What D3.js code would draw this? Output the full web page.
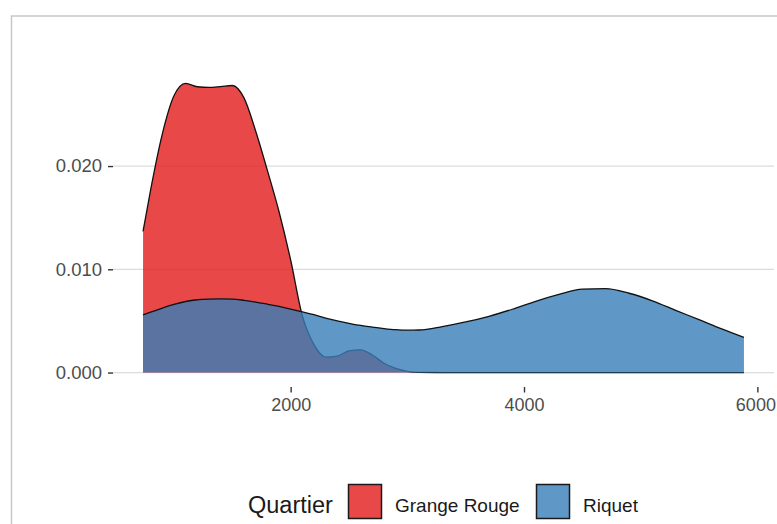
<!DOCTYPE html>
<html>
<head>
<meta charset="utf-8">
<script src="https://cdn.jsdelivr.net/npm/d3@7"></script>
<style>
  html, body { margin: 0; padding: 0; background: #ffffff; }
  svg { display: block; }
  text { font-family: "Liberation Sans", Arial, sans-serif; }
</style>
</head>
<body>
<svg id="chart" width="777" height="524"></svg>
<script>
// Kernel density estimates of surface (x) per neighbourhood, on a shared grid
const gridX = [735, 800, 900, 1000, 1100, 1200, 1300, 1400, 1500, 1600, 1700, 1800, 1900,
  2000, 2100, 2200, 2300, 2400, 2500, 2600, 2700, 2800, 2900, 3000, 3100, 3300, 3500,
  3700, 3900, 4100, 4300, 4500, 4700, 4900, 5100, 5300, 5500, 5700, 5885];

const grangeRouge = [0.01367, 0.0177, 0.0231, 0.0268, 0.0280, 0.02768, 0.02762, 0.02770,
  0.02780, 0.0266, 0.0234, 0.0196, 0.0156, 0.0109, 0.0055, 0.0027, 0.0015, 0.0016,
  0.0021, 0.0022, 0.0017, 0.0009, 0.0004, 0.00012, 0.00002, 0, 0, 0, 0, 0, 0, 0, 0, 0,
  0, 0, 0, 0, 0];

const riquet = [0.00558, 0.00585, 0.00625, 0.00660, 0.00688, 0.00705, 0.00712, 0.00714,
  0.00712, 0.00700, 0.00683, 0.00662, 0.00640, 0.00615, 0.00588, 0.00560, 0.00527,
  0.00500, 0.00477, 0.00456, 0.00440, 0.00426, 0.00415, 0.00410, 0.00412, 0.00445,
  0.00490, 0.00545, 0.00613, 0.00690, 0.00756, 0.00808, 0.00812, 0.00768, 0.00695,
  0.00603, 0.00512, 0.00420, 0.00340];

const groups = ["Grange Rouge", "Riquet"];
const groupColors = ["#E41A1C", "#377EB8"];
const legendTitle = "Quartier";
const xTicks = [2000, 4000, 6000];
const yTicks = [0, 0.01, 0.02];

const series = [grangeRouge, riquet].map((vals, i) => ({
  name: groups[i],
  color: groupColors[i],
  points: gridX.map((x, j) => ({ x, y: vals[j] }))
}));

const svg = d3.select("#chart");

// outer frame
svg.append("rect")
  .attr("x", 11.5).attr("y", 16)
  .attr("width", 900).attr("height", 700)
  .attr("fill", "none")
  .attr("stroke", "#c8c8c8")
  .attr("stroke-width", 1.5);

const panel = { left: 113, right: 774, top: 69, bottom: 387 };

// ggplot-like 5% expansion of the data range
const xExt = d3.extent(gridX);
const xPad = (xExt[1] - xExt[0]) * 0.05;
const yMax = d3.max([...grangeRouge, ...riquet]);
const yPad = yMax * 0.05;

const x = d3.scaleLinear()
  .domain([xExt[0] - xPad, xExt[1] + xPad])
  .range([panel.left, panel.right]);
const y = d3.scaleLinear()
  .domain([-yPad, yMax + yPad])
  .range([panel.bottom, panel.top]);

// horizontal major gridlines
svg.append("g")
  .selectAll("line")
  .data(yTicks)
  .join("line")
  .attr("x1", panel.left).attr("x2", panel.right)
  .attr("y1", d => y(d)).attr("y2", d => y(d))
  .attr("stroke", "#dcdcdc")
  .attr("stroke-width", 1.3);

const area = d3.area()
  .x(d => x(d.x))
  .y0(y(0))
  .y1(d => y(d.y))
  .curve(d3.curveMonotoneX);
const line = d3.line()
  .x(d => x(d.x))
  .y(d => y(d.y))
  .curve(d3.curveMonotoneX);

// densities: each filled area followed by its upper outline
series.forEach(s => {
  svg.append("path")
    .datum(s.points)
    .attr("d", area)
    .attr("fill", s.color)
    .attr("fill-opacity", 0.8);
  svg.append("path")
    .datum(s.points)
    .attr("d", line)
    .attr("fill", "none")
    .attr("stroke", "#111111")
    .attr("stroke-width", 1.3);
});

// y axis
const yAxis = d3.axisLeft(y)
  .tickValues(yTicks)
  .tickFormat(d3.format(".3f"))
  .tickSize(5)
  .tickPadding(6);
const gy = svg.append("g")
  .attr("transform", `translate(${panel.left},0)`)
  .call(yAxis);
gy.select(".domain").remove();
gy.selectAll(".tick line").attr("stroke", "#333333").attr("stroke-width", 1.4);
gy.selectAll(".tick text")
  .attr("fill", "#4d4d4d")
  .style("font-size", "18.5px");

// x axis
const xAxis = d3.axisBottom(x)
  .tickValues(xTicks)
  .tickFormat(d3.format("d"))
  .tickSize(5.5)
  .tickPadding(6);
const gx = svg.append("g")
  .attr("transform", `translate(0,${panel.bottom})`)
  .call(xAxis);
gx.select(".domain").remove();
gx.selectAll(".tick line").attr("stroke", "#333333").attr("stroke-width", 1.4);
gx.selectAll(".tick text")
  .attr("fill", "#4d4d4d")
  .style("font-size", "18px");
// keep the last label inside the frame
gx.selectAll(".tick text").filter(d => d === xTicks[xTicks.length - 1]).attr("dx", "-2");

// legend
const legend = svg.append("g");
legend.append("text")
  .attr("x", 248).attr("y", 513)
  .attr("fill", "#1a1a1a")
  .style("font-size", "23.5px")
  .text(legendTitle);

const keyX = [348.5, 536.5];
series.forEach((s, i) => {
  legend.append("rect")
    .attr("x", keyX[i]).attr("y", 484.5)
    .attr("width", 33).attr("height", 34)
    .attr("fill", s.color)
    .attr("fill-opacity", 0.8)
    .attr("stroke", "#1a1a1a")
    .attr("stroke-width", 1.5);
  legend.append("text")
    .attr("x", keyX[i] + 46.5).attr("y", 511.5)
    .attr("fill", "#1a1a1a")
    .style("font-size", "19px")
    .text(s.name);
});
</script>
</body>
</html>
